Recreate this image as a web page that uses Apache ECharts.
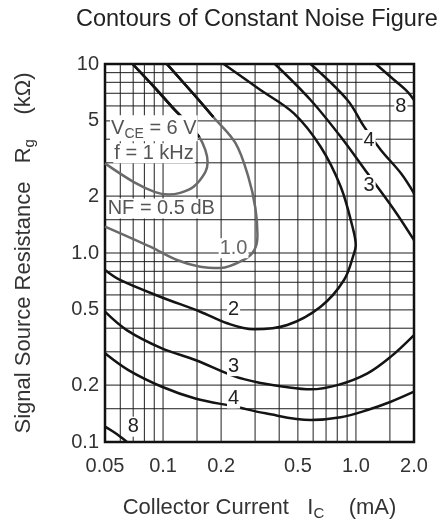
<!DOCTYPE html>
<html><head><meta charset="utf-8">
<script src="https://cdn.jsdelivr.net/npm/echarts@6/dist/echarts.min.js"></script>
<style>html,body{margin:0;padding:0;background:#fff}#c{width:446px;height:529px}</style>
</head><body><div id="c"></div>
<script>
// Axis ticks
const xTicks = [0.05, 0.1, 0.2, 0.5, 1, 2];
const xTickText = ['0.05', '0.1', '0.2', '0.5', '1.0', '2.0'];
const yTicks = [0.1, 0.2, 0.5, 1, 2, 5, 10];
const yTickText = ['0.1', '0.2', '0.5', '1.0', '2', '5', '10'];
// Graph-paper grid lines
const gridX = [0.06, 0.07, 0.08, 0.09, 0.1, 0.15, 0.2, 0.3, 0.4, 0.5, 0.6, 0.7, 0.8, 0.9, 1, 1.5];
const gridY = [0.15, 0.2, 0.3, 0.4, 0.5, 0.6, 0.7, 0.8, 0.9, 1, 1.5, 2, 3, 4, 5, 6, 7, 8, 9];
// Contours [Ic (mA), Rg (kOhm)]
const nf05 = [[0.0695,10],[0.091,7.46],[0.1115,5.92],[0.1351,4.81],[0.1541,4.11],[0.1656,3.51],[0.1702,3.03],[0.1656,2.68],[0.1439,2.24],[0.1227,2.08],[0.1063,2.04],[0.091,2.10],[0.0702,2.38],[0.05,2.98]];
const nf05Top = [[0.0695,10],[0.091,7.46],[0.1115,5.92],[0.1351,4.81],[0.1541,4.11]];
const nf10 = [[0.1047,10],[0.1469,6.77],[0.1822,5.24],[0.2371,3.82],[0.277,2.52],[0.301,1.73],[0.3086,1.245],[0.2977,1.04],[0.2609,0.918],[0.1981,0.833],[0.1559,0.846],[0.118,0.918],[0.0857,1.08],[0.05,1.38]];
const nf10Top = [[0.1047,10],[0.1469,6.77],[0.1822,5.24]];
const nf2 = [[0.05,0.813],[0.0598,0.720],[0.0966,0.587],[0.156,0.489],[0.2148,0.425],[0.2953,0.395],[0.4404,0.416],[0.6562,0.520],[0.8673,0.720],[0.9775,0.996],[0.9976,1.10],[0.959,1.38],[0.834,2.24],[0.656,3.65],[0.4767,5.48],[0.3199,7.29],[0.2062,10]];
const nf3Upper = [[0.38,10],[0.582,6.45],[0.834,4.12],[1.148,2.64],[1.579,1.69],[2.0,1.17]];
const nf3Lower = [[0.05,0.489],[0.0648,0.391],[0.0986,0.313],[0.1469,0.2715],[0.2371,0.2216],[0.3265,0.2045],[0.4228,0.196],[0.582,0.190],[0.8016,0.200],[1.148,0.231],[1.517,0.283],[2.0,0.368]];
const nf4Upper = [[0.582,10],[0.903,6.45],[1.102,4.66],[1.346,3.51],[1.711,2.64],[2.0,2.07]];
const nf4Lower = [[0.05,0.2946],[0.0661,0.240],[0.0986,0.196],[0.1469,0.170],[0.2371,0.1537],[0.3397,0.1418],[0.582,0.1307],[0.834,0.1351],[1.148,0.1477],[1.517,0.1633],[2.0,0.1845]];
const nf8Upper = [[1.268,10],[1.579,8.23],[1.853,7.13],[2.0,6.45]];
const nf8Lower = [[0.05,0.1205],[0.0575,0.1102],[0.0648,0.1004]];
// Labels [Ic, Rg, text]
const curveLabels = [[1.71,5.94,'8'],[1.17,3.96,'4'],[1.17,2.29,'3'],[0.232,1.06,'1.0'],[0.232,0.50,'2'],[0.232,0.252,'3'],[0.232,0.170,'4'],[0.0702,0.1205,'8']];
const notes = [[0.0531,4.57,'{a|V}{s|CE}{a| = 6 V}'],[0.0552,3.37,'{a|f = 1 kHz}'],[0.0510,1.72,'{a|NF = 0.5 dB}']];

const FONT = 'Liberation Sans, Arial, sans-serif';
const X_RANGE = [0.05, 2], Y_RANGE = [0.1, 10];
function pick(v, ticks, texts) {
  let best = 0, bd = Infinity;
  ticks.forEach((t, i) => { const d = Math.abs(Math.log10(v) - Math.log10(t)); if (d < bd) { bd = d; best = i; } });
  return texts[best];
}
function curve(data, color, z) {
  return { type: 'line', data, smooth: 0.35, symbol: 'circle', symbolSize: 1, showSymbol: false, clip: false,
    lineStyle: { color, width: 2.5 }, itemStyle: { color }, zlevel: 1, z: z || 3, animation: false };
}
function gridLine(data) {
  return { type: 'line', data, symbol: 'circle', symbolSize: 1, showSymbol: false,
    lineStyle: { color: '#1e1e1e', width: 1 }, itemStyle: { color: '#1e1e1e' }, z: 1, animation: false };
}
const BLACK = '#141414', GRAY = '#6a6a6a';
const series = [];
gridX.forEach(v => series.push(gridLine([[v, Y_RANGE[0]], [v, Y_RANGE[1]]])));
gridY.forEach(v => series.push(gridLine([[X_RANGE[0], v], [X_RANGE[1], v]])));
series.push(
  curve(nf05, GRAY), curve(nf10, GRAY),
  curve(nf2, BLACK),
  curve(nf3Upper, BLACK), curve(nf3Lower, BLACK),
  curve(nf4Upper, BLACK), curve(nf4Lower, BLACK),
  curve(nf8Upper, BLACK), curve(nf8Lower, BLACK),
  curve(nf05Top, BLACK, 4), curve(nf10Top, BLACK, 4)
);
const chart = echarts.init(document.getElementById('c'));
chart.setOption({
  animation: false,
  tooltip: { show: false },
  title: { text: 'Contours of Constant Noise Figure', left: 76, top: 8, padding: 0,
    textStyle: { fontFamily: FONT, fontSize: 23.5, fontWeight: 'normal', color: '#222' } },
  grid: { left: 105, right: 32, top: 64, bottom: 87, show: true, borderColor: '#111', borderWidth: 2.5 },
  xAxis: {
    type: 'log', logBase: 10, min: X_RANGE[0], max: X_RANGE[1],
    axisLine: { show: false }, axisTick: { show: false }, splitLine: { show: false },
    axisLabel: { customValues: xTicks, formatter: v => pick(v, xTicks, xTickText),
      fontFamily: FONT, fontSize: 20, color: '#333', margin: 14 },
    name: 'Collector Current   I{s|C}    (mA)', nameLocation: 'middle', nameGap: 52,
    nameTextStyle: { fontFamily: FONT, fontSize: 22, color: '#333',
      rich: { s: { fontFamily: FONT, fontSize: 15, color: '#333', padding: [12, 0, 0, 0] } } }
  },
  yAxis: {
    type: 'log', logBase: 10, min: Y_RANGE[0], max: Y_RANGE[1],
    axisLine: { show: false }, axisTick: { show: false }, splitLine: { show: false },
    axisLabel: { customValues: yTicks, formatter: v => pick(v, yTicks, yTickText),
      fontFamily: FONT, fontSize: 20, color: '#333', margin: 6 },
    name: 'Signal Source Resistance   R{s|g}    (kΩ)', nameLocation: 'middle', nameGap: 68, nameRotate: 90,
    nameTextStyle: { fontFamily: FONT, fontSize: 22, color: '#333',
      rich: { s: { fontFamily: FONT, fontSize: 15, color: '#333', padding: [12, 0, 0, 0] } } }
  },
  series
});
// Positions through the chart's own axis scales
const toPx = (x, y) => chart.convertToPixel({ gridIndex: 0 }, [x, y]);
const elements = [];
[nf05Top, nf10Top].forEach(d => {
  elements.push({ type: 'polyline', zlevel: 1, z: 50, silent: true,
    shape: { points: d.map(p => toPx(p[0], p[1])), smooth: 0.35 },
    style: { stroke: BLACK, lineWidth: 2.5, fill: null } });
});
curveLabels.forEach(([x, y, t]) => {
  const p = toPx(x, y);
  elements.push({ type: 'text', x: p[0], y: p[1], zlevel: 2, z: 100, silent: true,
    style: { text: t, fontFamily: FONT, fontSize: 20, fill: t === '1.0' ? '#666' : '#222',
      align: 'center', verticalAlign: 'middle', backgroundColor: '#fff', padding: [0, 1] } });
});
notes.forEach(([x, y, t]) => {
  const p = toPx(x, y);
  elements.push({ type: 'text', x: p[0], y: p[1], zlevel: 2, z: 100, silent: true,
    style: { text: t, align: 'left', verticalAlign: 'middle', backgroundColor: '#fff', padding: [0, 1],
      rich: { a: { fontFamily: FONT, fontSize: 20, fill: '#555' },
              s: { fontFamily: FONT, fontSize: 14, fill: '#555', padding: [12, 0, 0, 0] } } } });
});
chart.setOption({ graphic: { elements } });
</script></body></html>
